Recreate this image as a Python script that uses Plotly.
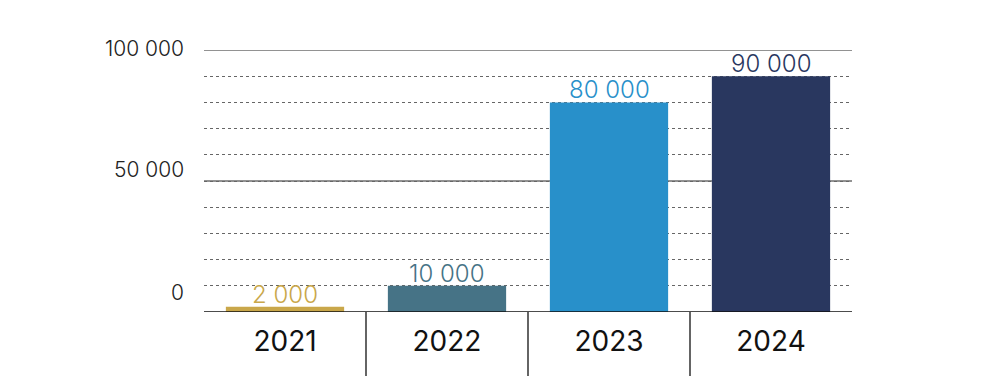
import plotly.graph_objects as go

years = ["2021", "2022", "2023", "2024"]
values = [2000, 10000, 80000, 90000]
value_labels = ["2 000", "10 000", "80 000", "90 000"]
bar_colors = ["#c9a74a", "#467386", "#2890ca", "#29375f"]
ytick_vals = [0, 50000, 100000]
ytick_text = ["0", "50 000", "100 000"]

FONT = "Inter"

fig = go.Figure()
fig.add_trace(go.Bar(
    x=list(range(len(years))), y=values,
    marker=dict(color=bar_colors, line=dict(width=0)),
    hoverinfo="skip",
))

# value labels above bars
for i, (v, t, c) in enumerate(zip(values, value_labels, bar_colors)):
    fig.add_annotation(x=i, y=v, xref="x", yref="y", text=t, showarrow=False,
                       yanchor="bottom", yshift=-4,
                       font=dict(family=FONT, size=24, color=c, weight=300))

# y tick labels (offset like reference)
shifts = {0: 20, 50000: 12, 100000: 2}
for v, t in zip(ytick_vals, ytick_text):
    fig.add_annotation(x=-0.028, xref="paper", y=v, yref="y", text=t, showarrow=False,
                       xanchor="right", yanchor="middle", yshift=shifts[v],
                       font=dict(family=FONT, size=21, color="#222222", weight=300))

# solid major lines
for v in [50000, 100000]:
    fig.add_shape(type="line", xref="paper", x0=0, x1=1, yref="y", y0=v, y1=v,
                  line=dict(color="#6e6e6e", width=1.3), layer="below")
# baseline
fig.add_shape(type="line", xref="paper", x0=0, x1=1, yref="y", y0=0, y1=0,
              line=dict(color="#111111", width=1.5), layer="above")
# category dividers below the axis
for xb in [0.5, 1.5, 2.5]:
    fig.add_shape(type="line", xref="x", x0=xb, x1=xb, yref="paper", y0=0, y1=-0.3,
                  line=dict(color="#111111", width=1.3), layer="above")

fig.update_layout(
    width=992, height=368,
    margin=dict(l=196, r=148, t=42, b=64),
    paper_bgcolor="white", plot_bgcolor="white",
    bargap=0.27,
    showlegend=False,
    xaxis=dict(range=[-0.5, 3.5], showgrid=False, zeroline=False,
               showline=False, ticks="", ticklabelstandoff=10,
               tickvals=list(range(len(years))), ticktext=years,
               tickfont=dict(family=FONT, size=28, color="#111111")),
    yaxis=dict(range=[0, 100000], dtick=10000, showgrid=True, gridcolor="#666666",
               gridwidth=1, griddash="3px,3px", zeroline=False, showline=False,
               showticklabels=False, fixedrange=True),
)

fig.write_html("out.html")
